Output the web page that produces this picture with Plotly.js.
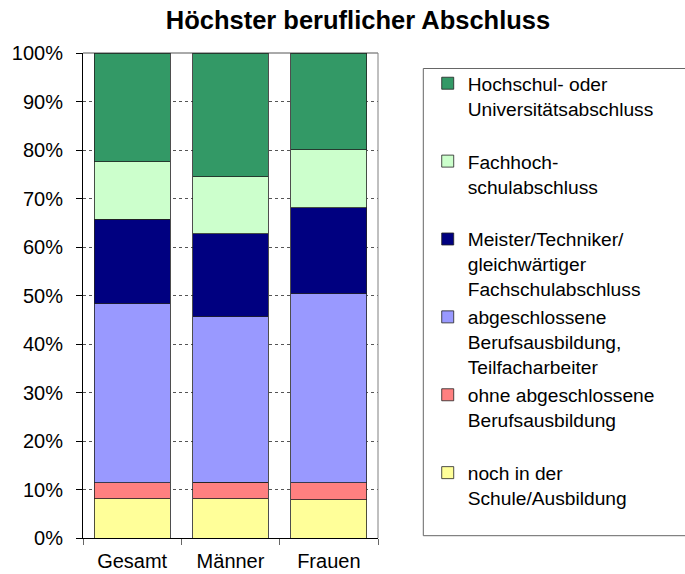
<!DOCTYPE html>
<html>
<head>
<meta charset="utf-8">
<script src="https://cdn.plot.ly/plotly-3.0.1.min.js"></script>
<style>html,body{margin:0;padding:0;background:#fff;}#chart{width:685px;height:574px;}</style>
</head>
<body>
<div id="chart"></div>
<script>
// Data (percent shares), bottom to top of each stacked bar
const categories = ["Gesamt", "Männer", "Frauen"];
const seriesNames = [
  "noch in der<br>Schule/Ausbildung<br>",
  "ohne abgeschlossene<br>Berufsausbildung<br>",
  "abgeschlossene<br>Berufsausbildung,<br>Teilfacharbeiter",
  "Meister/Techniker/<br>gleichwärtiger<br>Fachschulabschluss",
  "Fachhoch-<br>schulabschluss<br>",
  "Hochschul- oder<br>Universitätsabschluss<br>"
];
const nochInSchule   = [8.1, 8.1, 7.9];
const ohneAbschluss  = [3.3, 3.4, 3.45];
const berufsausbild  = [36.9, 34.1, 39.05];
const meisterTechn   = [17.4, 17.1, 17.7];
const fachhochschule = [11.9, 11.8, 12.0];
const hochschule     = [22.4, 25.5, 19.9];
const seriesValues = [nochInSchule, ohneAbschluss, berufsausbild, meisterTechn, fachhochschule, hochschule];
const colors = ["#FFFF99", "#FF8080", "#9999FF", "#000080", "#CCFFCC", "#339966"];
const yTickVals = [0, 10, 20, 30, 40, 50, 60, 70, 80, 90, 100];
const yTickText = ["0%", "10%", "20%", "30%", "40%", "50%", "60%", "70%", "80%", "90%", "100%"];

const FONT = "Liberation Sans, Arial, sans-serif";

const traces = seriesValues.map((vals, i) => ({
  type: "bar",
  name: seriesNames[i],
  x: categories,
  y: vals,
  marker: {color: colors[i], line: {color: "#222", width: 0.8}},
  hoverinfo: "x+y"
}));

const layout = {
  width: 685, height: 574,
  margin: {l: 83, r: 307, t: 53, b: 36, pad: 0},
  paper_bgcolor: "#fff", plot_bgcolor: "#fff",
  barmode: "stack",
  bargap: 0.23,
  font: {family: FONT, color: "#000", size: 20},
  title: {
    text: "<b>Höchster beruflicher Abschluss</b>",
    font: {family: FONT, size: 25.5, color: "#000"},
    x: 0.5226, xref: "container", xanchor: "center",
    y: 1 - 20/574, yref: "container", yanchor: "middle"
  },
  xaxis: {
    type: "category",
    showline: true, linecolor: "#000", linewidth: 1,
    ticks: "outside", ticklen: 6, tickcolor: "#666", tickson: "boundaries",
    ticklabelstandoff: 5,
    showgrid: false, zeroline: false,
    tickfont: {size: 20, family: FONT, color: "#000"}
  },
  yaxis: {
    range: [0, 100],
    tickmode: "array",
    tickvals: yTickVals,
    ticktext: yTickText,
    showline: true, linecolor: "#000", linewidth: 1,
    ticks: "outside", ticklen: 6, tickcolor: "#000",
    ticklabelstandoff: 9,
    showgrid: true, gridcolor: "#555", gridwidth: 1, griddash: "3px,3px",
    zeroline: false,
    tickfont: {size: 20, family: FONT, color: "#000"}
  },
  legend: {
    x: 1.1685, xanchor: "left",
    y: 0.9768, yanchor: "top",
    traceorder: "reversed",
    valign: "top",
    font: {size: 19.2, family: FONT, color: "#000"},
    bgcolor: "rgba(0,0,0,0)",
    borderwidth: 0
  },
  shapes: [
    {type: "line", xref: "paper", yref: "paper", x0: 1, x1: 1, y0: 0, y1: 1,
     line: {color: "#808080", width: 1}, layer: "above"},
    {type: "line", xref: "paper", yref: "paper", x0: 0, x1: 1, y0: 1, y1: 1,
     line: {color: "#555", width: 1}, layer: "below"},
    {type: "rect", xref: "paper", yref: "paper",
     x0: (423.3 - 83) / 295, x1: (690 - 83) / 295,
     y0: (538 - 535.7) / 485, y1: (538 - 68.5) / 485,
     line: {color: "#666", width: 1}, fillcolor: "rgba(0,0,0,0)", layer: "below"}
  ]
};

Plotly.newPlot("chart", traces, layout, {displayModeBar: false, staticPlot: true});
</script>
</body>
</html>
